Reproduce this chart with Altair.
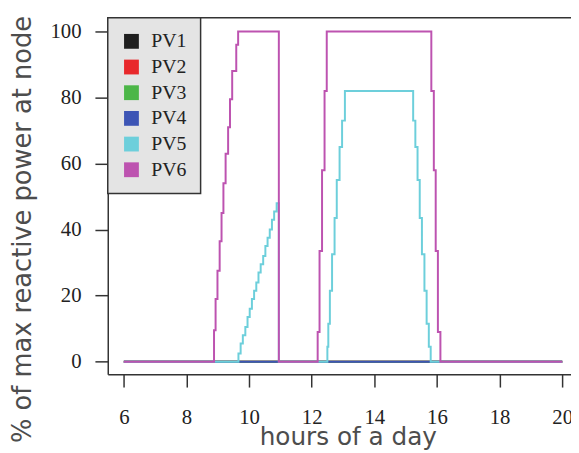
import altair as alt
import pandas as pd

# ---- data ----
series_names = ["PV1", "PV2", "PV3", "PV4", "PV5", "PV6"]
series_colors = ["#1f1f1f", "#e8282b", "#4cb648", "#3d55b5", "#6dcfdb", "#bd53b0"]
hour_ticks = [6, 8, 10, 12, 14, 16, 18, 20]
pct_ticks = [0, 20, 40, 60, 80, 100]

pv1_t = [6.0, 20.0]
pv1_v = [0, 0]
pv2_t = [6.0, 20.0]
pv2_v = [0, 0]
pv3_t = [6.0, 20.0]
pv3_v = [0, 0]
pv4_t = [6.0, 20.0]
pv4_v = [0, 0]

pv5_t = [6.0, 9.66, 9.73, 9.80, 9.88, 9.95, 10.02, 10.09, 10.16, 10.23, 10.30,
         10.37, 10.45, 10.52, 10.59, 10.66, 10.73, 10.80, 10.88, 10.95,
         12.50, 12.53, 12.58, 12.65, 12.73, 12.80, 12.89, 12.97, 13.06,
         15.24, 15.31, 15.38, 15.45, 15.52, 15.60, 15.67, 15.74, 15.80, 20.0]
pv5_v = [0, 2.5, 5.5, 8, 10.5, 13.5, 16, 19, 21.5, 24, 27,
         29.5, 32, 35, 37.5, 40, 43, 45.5, 48, 0,
         4.5, 11.5, 21.5, 32.5, 43.5, 55, 65, 73, 82,
         73, 65, 55, 43.5, 32.5, 21.5, 11.5, 4.5, 0, 0]

pv6_t = [6.0, 8.88, 8.93, 8.99, 9.06, 9.12, 9.18, 9.25, 9.33, 9.39, 9.46, 9.59, 9.65,
         10.95, 12.19, 12.25, 12.33, 12.41, 12.48,
         15.82, 15.90, 15.96, 16.03, 16.11, 20.0]
pv6_v = [0, 9.5, 19, 27.5, 36.5, 45, 54, 63, 71, 79.5, 88, 96, 100,
         0, 9, 33.5, 58, 82, 100,
         82, 58, 33.5, 9, 0, 0]

all_t = [pv1_t, pv2_t, pv3_t, pv4_t, pv5_t, pv6_t]
all_v = [pv1_v, pv2_v, pv3_v, pv4_v, pv5_v, pv6_v]

rows = []
for name, ts, vs in zip(series_names, all_t, all_v):
    for i, (t, v) in enumerate(zip(ts, vs)):
        rows.append({"series": name, "hour": t, "value": v, "idx": i})
df = pd.DataFrame(rows)

W, H = 469, 361
x_scale = alt.Scale(domain=[5.486, 20.281], nice=False, zero=False)
y_scale = alt.Scale(domain=[-3.80, 104.19], nice=False, zero=False)

x_axis = alt.Axis(values=hour_ticks, format="d", tickSize=13, labelPadding=20,
                  labelFlush=False, labelOverlap=False, grid=False,
                  title="hours of a day", titleX=243, titleY=71,
                  titleBaseline="alphabetic", titleAlign="center", titleFontSize=25)
y_axis = alt.Axis(values=pct_ticks, format="d", tickSize=13, labelPadding=14,
                  grid=False, labelFlush=False, labelAlign="right",
                  title="% of max reactive power at node", titleX=-78, titleY=214,
                  titleAngle=270, titleBaseline="alphabetic", titleAlign="center",
                  titleFontSize=26)

base = alt.Chart(df)

# one line layer per series so that PV6 is drawn last (on top), PV1 first
line_layers = []
for k, name in enumerate(series_names):
    if k == 0:
        xe = alt.X("hour:Q", scale=x_scale, axis=x_axis)
        ye = alt.Y("value:Q", scale=y_scale, axis=y_axis)
    else:
        xe = alt.X("hour:Q", scale=x_scale)
        ye = alt.Y("value:Q", scale=y_scale)
    line_layers.append(
        base.transform_filter(alt.datum.series == name)
        .mark_line(interpolate="step-after", strokeWidth=2)
        .encode(
            x=xe, y=ye,
            stroke=alt.Stroke("series:N", scale=alt.Scale(range=series_colors),
                              legend=None),
            order=alt.Order("idx:Q"),
        )
    )

# filled-square legend (layer draws no marks itself)
legend_layer = base.mark_square(size=225).encode(
    x=alt.X("hour:Q", scale=x_scale),
    y=alt.Y("value:Q", scale=y_scale),
    color=alt.Color("series:N",
                    scale=alt.Scale(domain=series_names, range=series_colors),
                    legend=alt.Legend(title=None, orient="none", legendX=0, legendY=0,
                                      symbolType="square", symbolSize=225,
                                      symbolStrokeWidth=0, symbolOpacity=1,
                                      labelFont="Liberation Serif", labelFontSize=20,
                                      labelColor="#222222", labelOffset=10,
                                      rowPadding=6, padding=14,
                                      fillColor="#e4e4e4", strokeColor="#333333")),
).transform_filter("datum.value < -1000")

top_line = alt.Chart(pd.DataFrame({"k": [0]})).mark_rule(
    color="#333333", strokeWidth=1.5
).encode(y=alt.value(0), x=alt.value(0), x2=alt.value(W))

chart = alt.layer(*line_layers, legend_layer, top_line).properties(
    width=W, height=H,
    autosize=alt.AutoSizeParams(type="none"),
    padding={"left": 101, "top": 7, "right": 0, "bottom": 76},
).configure_view(strokeWidth=0).configure_axis(
    domainColor="#333333", domainWidth=1.5, tickColor="#333333", tickWidth=1.5,
    labelFont="Liberation Serif", labelFontSize=21, labelColor="#222222",
    titleFont="DejaVu Sans", titleFontWeight="normal",
    titleColor="#4d4d4d",
).configure_legend(strokeWidth=1.5)

chart.save("out.html", embed_options={"renderer": "svg", "actions": False})
